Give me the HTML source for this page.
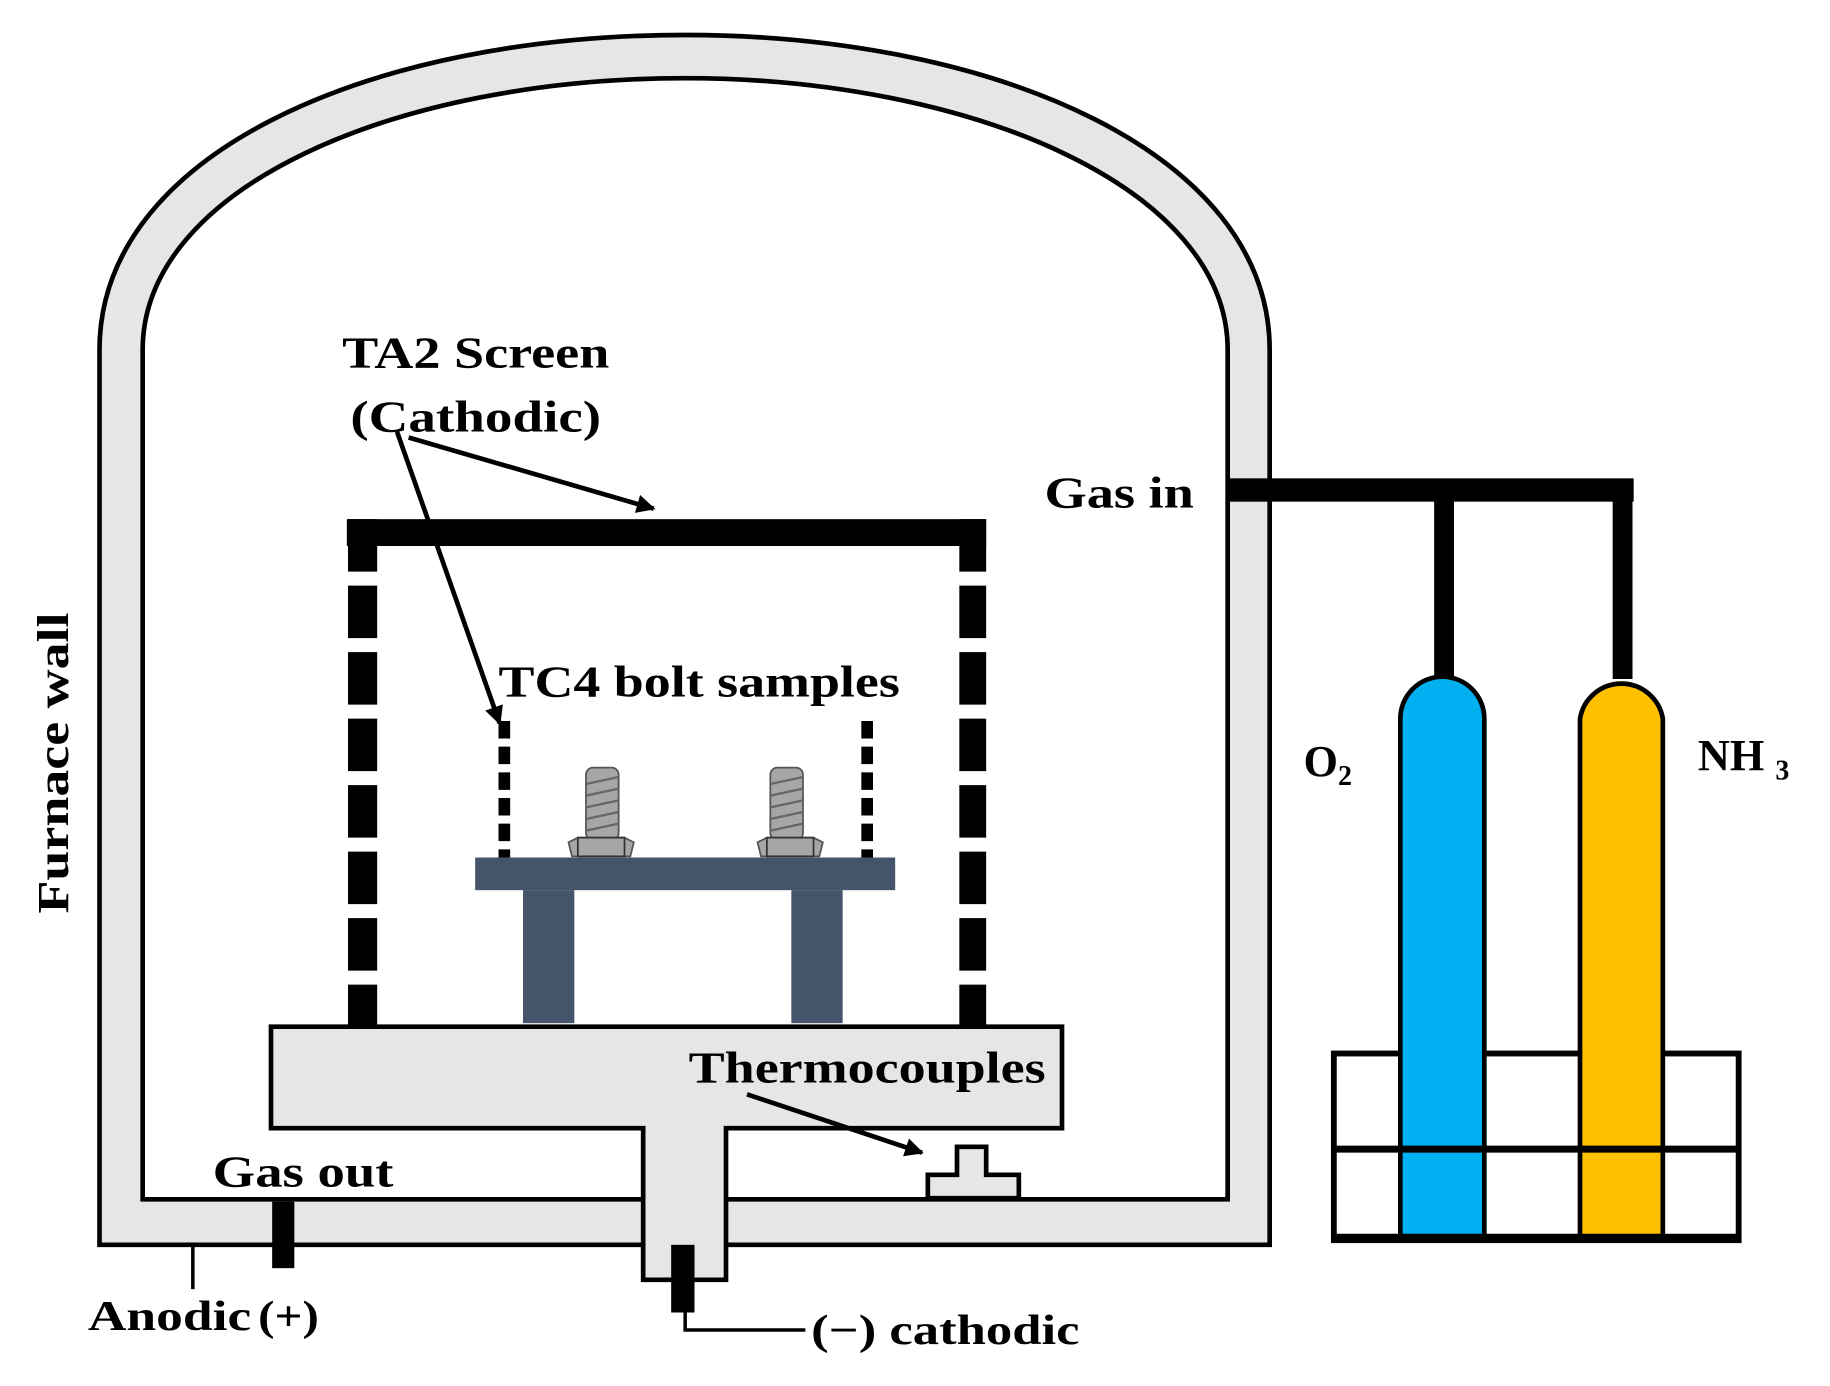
<!DOCTYPE html>
<html><head><meta charset="utf-8"><style>html,body{margin:0;padding:0;background:#fff}svg{display:block}text{font-family:"Liberation Serif",serif;font-weight:bold;fill:#000}</style></head>
<body>
<svg width="1830" height="1386" viewBox="0 0 1568 1188" xmlns="http://www.w3.org/2000/svg">
<defs><marker id="ah" markerWidth="10" markerHeight="8" refX="9" refY="4" orient="auto" markerUnits="userSpaceOnUse"><path d="M0,0 L10,4 L0,8 Z" fill="#000" transform="scale(2) translate(-5,-2)"/></marker>
<marker id="a2" viewBox="0 0 10 10" refX="9" refY="5" markerWidth="20" markerHeight="16" orient="auto" markerUnits="userSpaceOnUse"><path d="M0,0 L10,5 L0,10 Z" fill="#000"/></marker></defs>
<!-- furnace wall -->
<path d="M85,1067 V300 C85,130 320,30 587,30 C850,30 1088,130 1088,300 V1067 Z" fill="#e6e6e6" stroke="#000" stroke-width="4"/>
<path d="M122,1028 V300 C122,160 340,67 587,67 C830,67 1052,160 1052,300 V1028 Z" fill="#fff" stroke="#000" stroke-width="4"/>
<!-- pedestal -->
<path d="M232,880 H910 V967 H622 V1097 H551 V967 H232 Z" fill="#e6e6e6" stroke="#000" stroke-width="4"/>
<!-- electrodes -->
<rect x="575" y="1067" width="20" height="58" fill="#000"/>
<path d="M587,1125 V1140 H690" fill="none" stroke="#000" stroke-width="3"/>
<rect x="233" y="1030" width="19" height="57" fill="#000"/>
<line x1="165" y1="1067" x2="165" y2="1105" stroke="#000" stroke-width="3"/>
<!-- thermocouple -->
<path d="M820,983 H845 V1007 H873 V1027 H795 V1007 H820 Z" fill="#e6e6e6" stroke="#000" stroke-width="4"/>
<line x1="640" y1="938" x2="790" y2="988" stroke="#000" stroke-width="4" marker-end="url(#a2)"/>
<!-- screen -->
<rect x="297" y="445" width="548" height="23" fill="#000"/>
<line x1="310.5" y1="445" x2="310.5" y2="880" stroke="#000" stroke-width="25" stroke-dasharray="45,12"/>
<line x1="833.5" y1="445" x2="833.5" y2="880" stroke="#000" stroke-width="23" stroke-dasharray="45,12"/>
<line x1="432" y1="618" x2="432" y2="735" stroke="#000" stroke-width="10" stroke-dasharray="15,7"/>
<line x1="743" y1="618" x2="743" y2="735" stroke="#000" stroke-width="10" stroke-dasharray="15,7"/>
<!-- plate -->
<rect x="407" y="735" width="360" height="28" fill="#44546a"/>
<rect x="448" y="763" width="44" height="114" fill="#44546a"/>
<rect x="678" y="763" width="44" height="114" fill="#44546a"/>
<!-- bolts -->
<g stroke="#555" stroke-width="1.5" fill="#a6a6a6">
<rect x="502" y="658" width="28" height="62" rx="6"/>
<path d="M487,722 L495,718 H535 L543,722 L540,734 H490 Z"/>
<rect x="495" y="718" width="40" height="16" fill="#a6a6a6" stroke="#333"/>
<rect x="660" y="658" width="28" height="62" rx="6"/>
<path d="M649,722 L657,718 H697 L705,722 L702,734 H652 Z"/>
<rect x="657" y="718" width="40" height="16" fill="#a6a6a6" stroke="#333"/>
</g>
<g stroke="#666" stroke-width="2">
<line x1="502" y1="672" x2="530" y2="666"/><line x1="502" y1="682" x2="530" y2="676"/><line x1="502" y1="692" x2="530" y2="686"/><line x1="502" y1="702" x2="530" y2="696"/><line x1="502" y1="712" x2="530" y2="706"/>
<line x1="660" y1="672" x2="688" y2="666"/><line x1="660" y1="682" x2="688" y2="676"/><line x1="660" y1="692" x2="688" y2="686"/><line x1="660" y1="702" x2="688" y2="696"/><line x1="660" y1="712" x2="688" y2="706"/>
</g>
<!-- arrows for screen -->
<line x1="350" y1="375" x2="560" y2="436" stroke="#000" stroke-width="4" marker-end="url(#a2)"/>
<line x1="340" y1="370" x2="428" y2="620" stroke="#000" stroke-width="4" marker-end="url(#a2)"/>
<!-- gas pipes -->
<rect x="1052" y="410" width="348" height="20" fill="#000"/>
<rect x="1229" y="420" width="17" height="162" fill="#000"/>
<rect x="1382" y="420" width="17" height="162" fill="#000"/>
<!-- rack -->
<rect x="1143" y="903" width="347" height="160" fill="#fff" stroke="#000" stroke-width="5"/>
<!-- cylinders -->
<path d="M1200,1060 V616 A36,36 0 0 1 1272,616 V1060 Z" fill="#00b0f0" stroke="#000" stroke-width="4"/>
<path d="M1354,1060 V616 A36,36 0 0 1 1425,616 V1060 Z" fill="#ffc000" stroke="#000" stroke-width="4"/>
<line x1="1143" y1="985" x2="1490" y2="985" stroke="#000" stroke-width="6"/>
<line x1="1143" y1="1060" x2="1490" y2="1060" stroke="#000" stroke-width="5"/>
<!-- texts -->
<text x="293" y="315" font-size="38" textLength="229" lengthAdjust="spacingAndGlyphs">TA2 Screen</text>
<text x="300" y="370" font-size="38" textLength="215" lengthAdjust="spacingAndGlyphs">(Cathodic)</text>
<text x="427" y="597" font-size="38" textLength="344" lengthAdjust="spacingAndGlyphs">TC4 bolt samples</text>
<text x="895" y="435" font-size="38" textLength="128" lengthAdjust="spacingAndGlyphs">Gas in</text>
<text x="590" y="928" font-size="38" textLength="306" lengthAdjust="spacingAndGlyphs">Thermocouples</text>
<text x="182" y="1017" font-size="38" textLength="155" lengthAdjust="spacingAndGlyphs">Gas out</text>
<text x="75" y="1140" font-size="36" textLength="140" lengthAdjust="spacingAndGlyphs">Anodic</text>
<text x="221" y="1140" font-size="36" font-weight="normal" textLength="52" lengthAdjust="spacingAndGlyphs">(+)</text>
<text x="695" y="1152" font-size="36" textLength="230" lengthAdjust="spacingAndGlyphs">(−) cathodic</text>
<text x="1117" y="665" font-size="38">O<tspan font-size="24" dy="8">2</tspan></text>
<text x="1455" y="660" font-size="38">NH <tspan font-size="24" dy="8">3</tspan></text>
<text transform="translate(58,783) rotate(-90)" font-size="38" textLength="258" lengthAdjust="spacingAndGlyphs">Furnace wall</text>
</svg>
</body></html>
